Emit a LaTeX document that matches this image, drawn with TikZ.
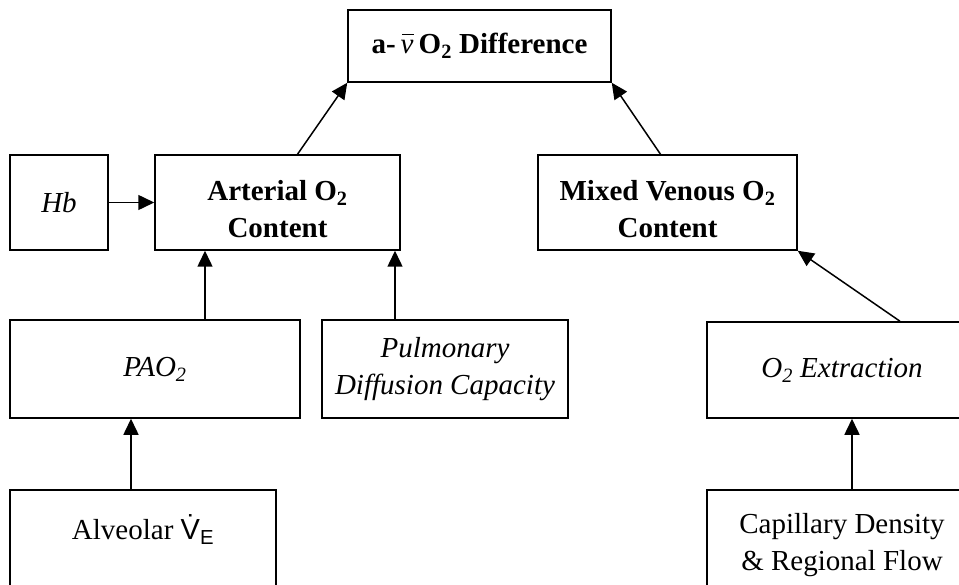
\documentclass[tikz,border=0pt]{standalone}
\usepackage{fontspec}
\setmainfont{Liberation Serif}
\newfontfamily\sansfont{Liberation Sans}
\usetikzlibrary{arrows.meta}
\newcommand{\vbarre}{\textnormal{\rlap{\itshape v}\kern0.06em\rule[0.64em]{0.4em}{0.045em}}}
\newcommand{\bas}{\rule{0pt}{34pt}} %texte un peu plus bas
\begin{document}
\begin{tikzpicture}[x=1pt,y=-1pt]
\tikzstyle{boite} = [draw,line width=1.5pt,align=center,inner sep=0pt,font=\fontsize{29}{37}\selectfont] %cadres
\tikzstyle{fleche} = [line width=1.5pt,-{Triangle[length=16pt,width=15pt]}]

\clip (0,0) rectangle (959,585);

%les cadres
\node[boite,minimum width=263,minimum height=72] (diff) at (479.5,46)
  {\textbf{a-}\,\vbarre\,\textbf{O\textsubscript{2} Difference}};
\node[boite,minimum width=98,minimum height=95] (hb) at (59,202.5) {\textit{Hb}};
\node[boite,minimum width=245,minimum height=95] (art) at (277.5,202.5)
  {\bas\textbf{Arterial O\textsubscript{2}}\\\textbf{Content}};
\node[boite,minimum width=259,minimum height=95] (mix) at (667.5,202.5)
  {\bas\textbf{Mixed Venous O\textsubscript{2}}\\\textbf{Content}};
\node[boite,minimum width=290,minimum height=98] (pao) at (155,369) {\textit{PAO\textsubscript{2}}};
\node[boite,minimum width=246,minimum height=98] (pul) at (445,369)
  {\textit{Pulmonary}\\\textit{Diffusion Capacity}};
\node[boite,minimum width=270,minimum height=96] (ext) at (842,370) {\textit{O\textsubscript{2} Extraction}};
\node[boite,minimum width=266,minimum height=110,text height=26pt,text depth=38pt] (alv) at (143,545)
  {Alveolar {\sansfont\.{V}\textsubscript{E}}};
\node[boite,minimum width=270,minimum height=110] (cap) at (842,545)
  {Capillary Density\\\& Regional Flow};

%les fleches
\draw[fleche] ([xshift=20pt]art.north)--(diff.south west);
\draw[fleche] ([xshift=-7pt]mix.north)--(diff.south east);
\draw[fleche] (hb.east)--(art.west);
\draw[fleche] ([xshift=50pt]pao.north)--([xshift=50pt]pao.north |- art.south);
\draw[fleche] ([xshift=-50pt]pul.north)--([xshift=-50pt]pul.north |- art.south);
\draw[fleche] ([xshift=58pt]ext.north)--(mix.south east);
\draw[fleche] ([xshift=-12pt]alv.north)--([xshift=-12pt]alv.north |- pao.south);
\draw[fleche] ([xshift=10pt]cap.north)--([xshift=10pt]cap.north |- ext.south);
\end{tikzpicture}
\end{document}
